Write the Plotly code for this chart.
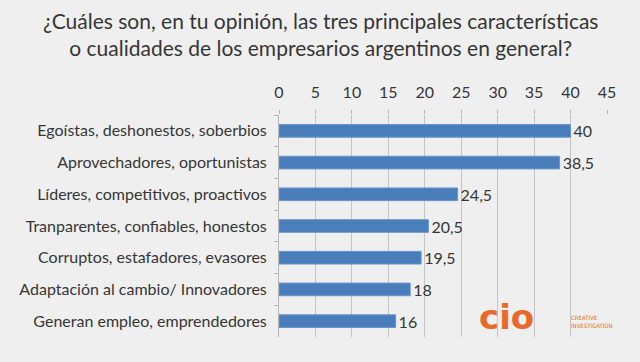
import plotly.graph_objects as go

categories = [
    "Egoístas, deshonestos, soberbios",
    "Aprovechadores, oportunistas",
    "Líderes, competitivos, proactivos",
    "Tranparentes, confiables, honestos",
    "Corruptos, estafadores, evasores",
    "Adaptación al cambio/ Innovadores",
    "Generan empleo, emprendedores",
]
values = [40, 38.5, 24.5, 20.5, 19.5, 18, 16]
x_ticks = [0, 5, 10, 15, 20, 25, 30, 35, 40, 45]

FONT = "Lato"
TXT = "#363636"
BG = "#efefef"

fig = go.Figure(
    go.Bar(
        x=values,
        y=categories,
        orientation="h",
        marker=dict(color="#4a7ebb", line=dict(color="#6b95cc", width=1)),
        texttemplate="%{x}",
        textposition="outside",
        constraintext="none",
        textfont=dict(family=FONT, size=16, color=TXT),
        cliponaxis=False,
        hoverinfo="skip",
    )
)

fig.update_layout(
    width=640,
    height=362,
    paper_bgcolor=BG,
    plot_bgcolor=BG,
    separators=",.",
    margin=dict(l=279, r=33, t=115, b=25),
    bargap=0.6,
    showlegend=False,
    font=dict(family=FONT, color=TXT),
    annotations=[
        dict(
            text="¿Cuáles son, en tu opinión, las tres principales características<br>o cualidades de los empresarios argentinos en general?",
            x=0.125, xref="paper", xanchor="center",
            y=1.365, yref="paper", yanchor="middle",
            showarrow=False,
            font=dict(family=FONT, size=21, color=TXT),
        ),
        dict(
            text="<b>cio</b>",
            x=0.605, xref="paper", xanchor="left",
            y=0.0, yref="paper", yanchor="bottom", yshift=-2,
            showarrow=False,
            font=dict(family="DejaVu Sans", size=34, color="#e8692a"),
        ),
        dict(
            text="CREATIVE<br>INVESTIGATION",
            x=0.885, xref="paper", xanchor="left",
            y=0.07, yref="paper", yanchor="middle",
            showarrow=False, align="left",
            font=dict(family="DejaVu Sans Condensed", size=6, color="#e8692a"),
        ),
    ],
)

fig.update_xaxes(
    side="top",
    range=[0, 45],
    tickvals=x_ticks,
    ticks="outside",
    ticklen=4,
    tickcolor="#b5b5b5",
    showgrid=True,
    gridcolor="#c4c4c4",
    gridwidth=1,
    zeroline=False,
    showline=False,
    tickfont=dict(family=FONT, size=16, color=TXT),
    ticklabelstandoff=6,
    fixedrange=True,
)
fig.update_yaxes(
    autorange="reversed",
    ticks="outside",
    tickson="boundaries",
    ticklen=4,
    tickcolor="#b5b5b5",
    showline=True,
    linecolor="#b5b5b5",
    showgrid=False,
    tickfont=dict(family=FONT, size=16, color=TXT),
    ticklabelstandoff=8,
    fixedrange=True,
)

fig.write_html(
    "out.html",
    config={"displayModeBar": False},
    post_script="document.body.style.margin='0';document.body.style.background='#efefef';",
)
